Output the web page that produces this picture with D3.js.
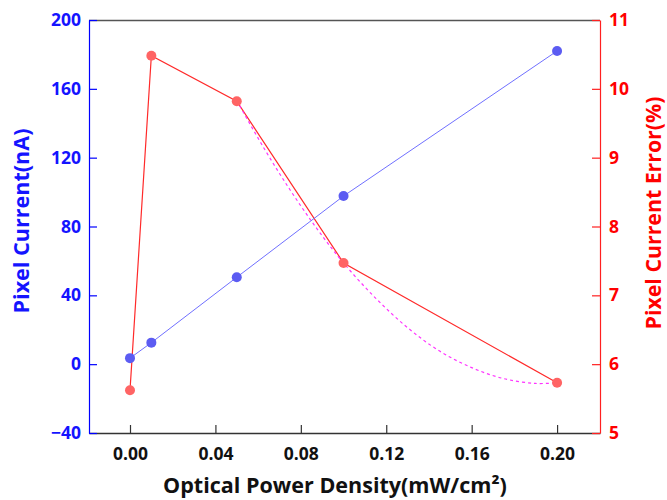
<!DOCTYPE html>
<html><head><meta charset="utf-8">
<script src="https://cdn.jsdelivr.net/npm/d3@7"></script>
<style>body{margin:0;background:#fff}svg{display:block}text{font-family:"Open Sans","Noto Sans",sans-serif;font-weight:bold}</style>
</head><body>
<svg id="c" width="667" height="500"></svg>
<script>
const xVals = [0, 0.01, 0.05, 0.1, 0.2];
const currentVals = [3.5, 12.5, 50.5, 97.7, 182];
const errorVals = [5.62, 10.48, 9.82, 7.47, 5.73];
const fitX = [0.05, 0.0625, 0.075, 0.0875, 0.1, 0.115, 0.13, 0.145, 0.16, 0.175, 0.19, 0.2];
const fitY = [9.83, 9.15, 8.53, 7.97, 7.47, 6.96, 6.53, 6.19, 5.95, 5.79, 5.72, 5.73];
const xTicks = [0, 0.04, 0.08, 0.12, 0.16, 0.20];
const yLeftTicks = [-40, 0, 40, 80, 120, 160, 200];
const yRightTicks = [5, 6, 7, 8, 9, 10, 11];

const L = 89, R = 600, T = 20, B = 433;
const svg = d3.select("#c");
const x = d3.scaleLinear().domain([-0.0192, 0.2201]).range([L, R]);
const yL = d3.scaleLinear().domain([-40, 200]).range([B, T]);
const yR = d3.scaleLinear().domain([5, 11]).range([B, T]);

function fitWidth(sel, target) {
  const n = sel.node();
  const fs = parseFloat(sel.attr("font-size"));
  const w = n.getComputedTextLength();
  if (w > 0) sel.attr("font-size", (fs * target / w).toFixed(2));
}

// top frame
svg.append("line").attr("x1", L).attr("x2", R).attr("y1", T + 0.5).attr("y2", T + 0.5).attr("stroke", "#555").attr("stroke-width", 1.5);

// x axis
const gx = svg.append("g").attr("transform", `translate(0,${B})`)
  .call(d3.axisBottom(x).tickValues(xTicks).tickFormat(d3.format(".2f")).tickSizeInner(-8).tickSizeOuter(0).tickPadding(15));
gx.select(".domain").attr("stroke", "#333").attr("stroke-width", 1.5);
gx.selectAll(".tick line").attr("stroke", "#333").attr("stroke-width", 1.2);
gx.selectAll(".tick text").attr("fill", "#111").attr("font-size", 17.5);

// left axis
const gl = svg.append("g").attr("transform", `translate(${L},0)`)
  .call(d3.axisLeft(yL).tickValues(yLeftTicks).tickSizeInner(-8).tickSizeOuter(0).tickPadding(8));
gl.select(".domain").attr("stroke", "#0000ff").attr("stroke-width", 1.2);
gl.selectAll(".tick line").attr("stroke", "#0000ff").attr("stroke-width", 1.2);
gl.selectAll(".tick text").attr("fill", "#1414ff").attr("font-size", 17.5);

// right axis
const gr = svg.append("g").attr("transform", `translate(${R},0)`)
  .call(d3.axisRight(yR).tickValues(yRightTicks).tickFormat(d3.format("d")).tickSizeInner(-8).tickSizeOuter(0).tickPadding(9));
gr.select(".domain").attr("stroke", "#ff2020").attr("stroke-width", 1.2);
gr.selectAll(".tick line").attr("stroke", "#ff2020").attr("stroke-width", 1.2);
gr.selectAll(".tick text").attr("fill", "#ff0000").attr("font-size", 17.5);

// titles
const tx = svg.append("text").attr("x", 335).attr("y", 493).attr("text-anchor", "middle").attr("font-size", 20).attr("fill", "#111")
  .text("Optical Power Density(mW/cm²)");
fitWidth(tx, 344);
const tl = svg.append("text").attr("transform", "translate(29,221) rotate(-90)").attr("text-anchor", "middle").attr("font-size", 19).attr("fill", "#1414ff")
  .text("Pixel Current(nA)");
fitWidth(tl, 185);
const tr = svg.append("text").attr("transform", "translate(661,213) rotate(-90)").attr("text-anchor", "middle").attr("font-size", 19).attr("fill", "#ff0000")
  .text("Pixel Current Error(%)");
fitWidth(tr, 233);

const errPts = xVals.map((v, i) => [v, errorVals[i]]);
const curPts = xVals.map((v, i) => [v, currentVals[i]]);
const fitPts = fitX.map((v, i) => [v, fitY[i]]);

// red line
svg.append("path").attr("d", d3.line().x(d => x(d[0])).y(d => yR(d[1]))(errPts))
  .attr("fill", "none").attr("stroke", "#ff2a2a").attr("stroke-width", 1.2);
// fit dotted
svg.append("path").attr("d", d3.line().curve(d3.curveCatmullRom).x(d => x(d[0])).y(d => yR(d[1]))(fitPts))
  .attr("fill", "none").attr("stroke", "#ff33ff").attr("stroke-width", 1.2).attr("stroke-dasharray", "3,3");
// blue line
svg.append("path").attr("d", d3.line().x(d => x(d[0])).y(d => yL(d[1]))(curPts))
  .attr("fill", "none").attr("stroke", "#7070ff").attr("stroke-width", 1);
svg.selectAll(".bm").data(curPts).join("circle").attr("class", "bm")
  .attr("cx", d => x(d[0])).attr("cy", d => yL(d[1])).attr("r", 5).attr("fill", "#5c5cf2");
svg.selectAll(".rm").data(errPts).join("circle").attr("class", "rm")
  .attr("cx", d => x(d[0])).attr("cy", d => yR(d[1])).attr("r", 5).attr("fill", "#ff6464");
</script>
</body></html>
